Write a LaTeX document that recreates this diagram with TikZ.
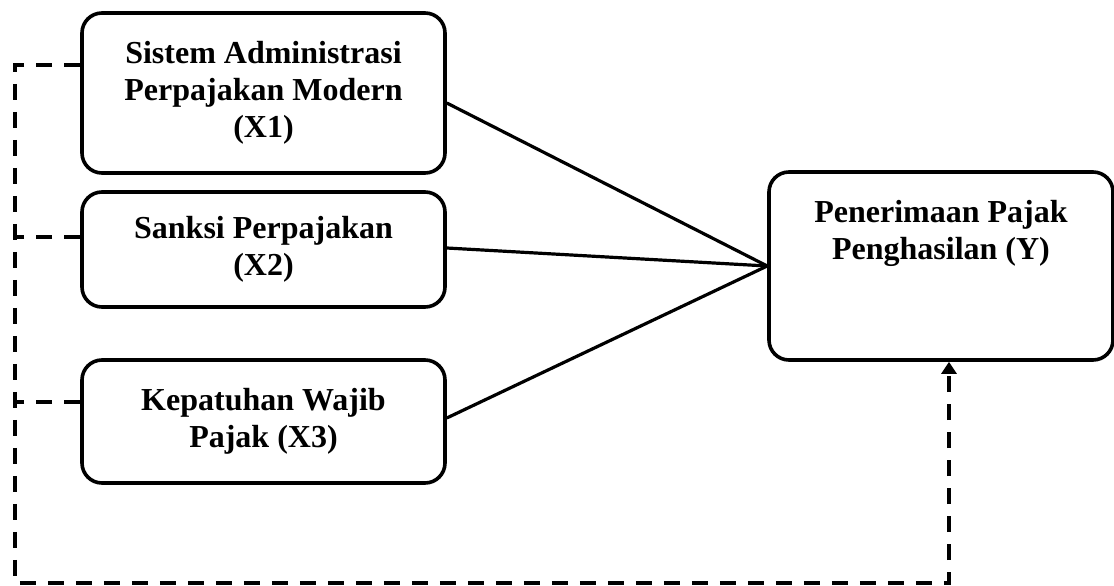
\documentclass[tikz,border=0pt]{standalone}
\usepackage{fontspec}
\setmainfont{Liberation Serif}
\usetikzlibrary{arrows.meta}
\begin{document}
\begin{tikzpicture}[x=1pt,y=-1pt,
  box/.style={draw, line width=3.6pt, rounded corners=20pt, align=center,
    font=\fontsize{32}{37}\selectfont\bfseries, inner sep=0pt},
  solidline/.style={line width=3.2pt},
  dashline/.style={line width=3.6pt, dash pattern=on 16pt off 12pt},
  ]
\useasboundingbox (0,0) rectangle (1114,586);
\node[box, minimum width=363pt, minimum height=160pt] (X1) at (263.5,93)
  {Sistem Administrasi\\Perpajakan Modern\\(X1)};
\node[box, minimum width=363pt, minimum height=115pt] (X2) at (263.5,249.5)
  {Sanksi Perpajakan\\(X2)};
\node[box, minimum width=363pt, minimum height=123pt] (X3) at (263.5,421.5)
  {Kepatuhan Wajib\\Pajak (X3)};
\node[box, minimum width=344pt, minimum height=188pt,
  label={[anchor=north, yshift=-27pt, align=center, font=\fontsize{32}{37}\selectfont\bfseries]north:Penerimaan Pajak\\Penghasilan (Y)}] (Y) at (941,266) {};
\draw[solidline] ([yshift=-10pt]X1.east) -- (Y.west);
\draw[solidline] ([yshift=1.5pt]X2.east) -- (Y.west);
\draw[solidline] ([yshift=3.5pt]X3.east) -- (Y.west);
\coordinate (L1) at (15,65);
\coordinate (L2) at (15,237);
\coordinate (L3) at (15,402);
\coordinate (BL) at (15,583);
\coordinate (BR) at (949,583);
\draw[dashline] ([yshift=28pt]X1.west) -- (L1) -- (BL) -- (BR)
  -- ([xshift=8pt]Y.south) [-{Triangle[length=12pt,width=15pt]}];
\draw[dashline] ([yshift=12.5pt]X2.west) -- (L2);
\draw[dashline] ([yshift=19.5pt]X3.west) -- (L3);
\end{tikzpicture}
\end{document}
